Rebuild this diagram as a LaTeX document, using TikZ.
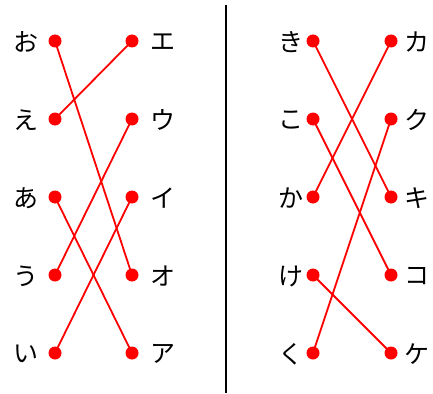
\documentclass[tikz,border=0pt]{standalone}
\usepackage{fontspec}
\newfontfamily\jpfont{Noto Sans CJK JP}
\begin{document}
\begin{tikzpicture}[x=1pt,y=-1pt,
  dot/.style={circle,fill=red,inner sep=0pt,minimum size=13pt},
  lab/.style={font=\jpfont\fontsize{25}{25}\selectfont,inner sep=0pt},
  link/.style={red,line width=1.8pt}]
\useasboundingbox (0,0) rectangle (433,393);
% left group
\foreach \t/\n [count=\i] in {お/a1,え/a2,あ/a3,う/a4,い/a5}{
  \node[lab] at (26,{42+(\i-1)*78}) {\t};
  \node[dot] (\n) at (55,{41+(\i-1)*78}) {};
}
\foreach \t/\n [count=\i] in {エ/b1,ウ/b2,イ/b3,オ/b4,ア/b5}{
  \node[lab] at (163,{42+(\i-1)*78}) {\t};
  \node[dot] (\n) at (132,{41+(\i-1)*78}) {};
}
\draw[link] (a1.center) -- (b4.center);
\draw[link] (a2.center) -- (b1.center);
\draw[link] (a3.center) -- (b5.center);
\draw[link] (a4.center) -- (b2.center);
\draw[link] (a5.center) -- (b3.center);
% divider
\coordinate (t) at (226,5);
\coordinate (u) at (226,393);
\draw[line width=1.6pt] (t) -- (u);
% right group
\foreach \t/\n [count=\i] in {き/c1,こ/c2,か/c3,け/c4,く/c5}{
  \node[lab] at (291,{42+(\i-1)*78}) {\t};
  \node[dot] (\n) at (313,{41+(\i-1)*78}) {};
}
\foreach \t/\n [count=\i] in {カ/d1,ク/d2,キ/d3,コ/d4,ケ/d5}{
  \node[lab] at (417,{42+(\i-1)*78}) {\t};
  \node[dot] (\n) at (391,{41+(\i-1)*78}) {};
}
\draw[link] (c1.center) -- (d3.center);
\draw[link] (c2.center) -- (d4.center);
\draw[link] (c3.center) -- (d1.center);
\draw[link] (c4.center) -- (d5.center);
\draw[link] (c5.center) -- (d2.center);
\end{tikzpicture}
\end{document}
